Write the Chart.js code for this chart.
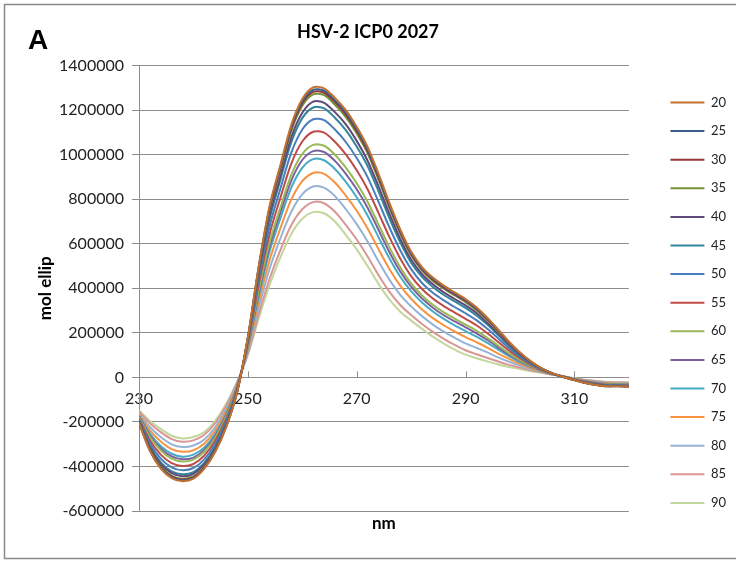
<!DOCTYPE html>
<html>
<head>
<meta charset="utf-8">
<title>HSV-2 ICP0 2027</title>
<script src="https://cdn.jsdelivr.net/npm/chart.js"></script>
<style>
  html, body { margin: 0; padding: 0; background: #fff; }
</style>
</head>
<body>
<canvas id="grafico" width="736" height="561"></canvas>
<script>
// longitud de onda (nm)
const longitudOnda = [230,232,234,236,238,240,242,244,246,248,250,252,254,256,258,260,262,264,266,268,270,272,274,276,278,280,282,284,286,288,290,292,294,296,298,300,302,304,306,308,310,312,314,316,318,320];
const ticksX = [230, 250, 270, 290, 310];

const temperaturas = ['20','25','30','35','40','45','50','55','60','65','70','75','80','85','90'];

// mol ellip, en miles
const s20 = [-205,-330,-410,-452,-466,-455,-410,-335,-225,-70,180,500,770,955,1135,1250,1302,1298,1255,1200,1125,1035,915,785,665,565,495,448,412,382,352,315,268,215,160,112,72,40,18,2,-12,-25,-34,-40,-40,-42];
const s25 = [-204,-327,-406,-448,-462,-451,-407,-332,-223,-69,178,495,763,947,1125,1239,1291,1287,1244,1189,1114,1024,905,776,658,559,489,443,407,377,347,310,264,212,158,111,71,40,18,2,-12,-25,-34,-40,-40,-42];
const s30 = [-203,-325,-404,-445,-459,-448,-404,-330,-221,-68,177,492,758,940,1118,1231,1282,1278,1236,1180,1106,1016,898,770,652,554,485,439,403,373,343,307,261,210,156,109,70,39,18,2,-12,-25,-33,-39,-39,-41];
const s35 = [-202,-323,-400,-442,-455,-445,-401,-327,-219,-67,176,487,750,932,1108,1220,1271,1267,1224,1169,1095,1006,888,761,645,548,480,433,398,368,338,302,257,206,154,108,70,39,18,2,-12,-24,-33,-39,-39,-41];
const s40 = [-198,-314,-390,-430,-444,-433,-391,-319,-213,-64,171,473,729,907,1079,1188,1238,1233,1191,1136,1062,973,858,735,622,529,463,418,382,352,323,289,245,197,147,103,67,38,17,2,-11,-23,-32,-38,-38,-40];
const s45 = [-196,-308,-382,-422,-435,-425,-384,-313,-208,-62,167,462,713,889,1057,1164,1212,1208,1166,1110,1037,949,836,715,606,515,451,406,370,341,312,278,237,190,142,100,65,37,17,2,-11,-23,-31,-37,-37,-39];
const s50 = [-190,-296,-365,-404,-417,-407,-368,-299,-198,-57,160,440,679,849,1010,1113,1159,1155,1113,1057,985,899,789,674,571,486,424,380,346,316,288,257,218,175,131,93,61,35,16,3,-10,-21,-29,-35,-35,-37];
const s55 = [-185,-282,-347,-385,-398,-389,-351,-285,-188,-52,152,417,644,808,961,1059,1103,1099,1058,1001,930,845,739,631,534,455,397,354,320,291,263,234,198,159,120,86,56,33,16,3,-9,-20,-28,-33,-34,-35];
const s60 = [-179,-268,-328,-365,-378,-369,-334,-271,-177,-47,143,392,607,764,910,1003,1044,1040,1000,942,872,789,687,585,495,422,368,326,292,264,237,210,178,143,108,78,52,31,15,3,-8,-19,-26,-31,-32,-33];
const s65 = [-176,-261,-319,-355,-368,-360,-326,-264,-171,-45,139,380,589,743,885,976,1016,1012,972,914,845,762,663,563,476,407,354,313,279,251,225,198,168,135,102,74,50,30,15,4,-8,-18,-25,-30,-31,-32];
const s70 = [-172,-252,-308,-343,-356,-347,-315,-255,-165,-41,134,365,566,716,853,941,980,975,936,878,809,727,630,535,452,387,336,296,263,234,208,183,155,125,95,69,47,29,15,4,-7,-17,-24,-29,-30,-31];
const s75 = [-166,-238,-288,-322,-334,-327,-297,-239,-153,-36,125,339,527,671,799,881,918,914,875,816,748,669,576,487,412,353,305,266,234,206,181,158,134,107,83,61,42,26,14,4,-7,-15,-22,-26,-28,-28];
const s80 = [-160,-223,-268,-301,-313,-306,-279,-224,-142,-30,116,313,488,625,745,822,857,852,814,755,688,610,521,439,371,319,275,237,205,178,153,133,112,90,70,53,37,24,13,4,-6,-14,-20,-24,-26,-26];
const s85 = [-153,-206,-246,-277,-289,-283,-258,-206,-128,-24,106,284,443,573,684,755,787,782,744,685,619,543,460,385,325,280,240,204,173,146,122,104,88,71,56,44,32,22,12,5,-5,-12,-17,-22,-23,-24];
const s90 = [-148,-195,-232,-262,-274,-268,-245,-195,-120,-20,100,265,415,540,645,712,742,737,700,640,575,500,420,350,295,255,218,183,152,125,102,86,72,58,47,38,28,20,12,5,-4,-11,-16,-20,-22,-22];

const series = [s20,s25,s30,s35,s40,s45,s50,s55,s60,s65,s70,s75,s80,s85,s90];
const colores = ['#C4712F','#3A5F8E','#953735','#77933C','#5F497A','#31859C','#4A7EBB','#BE4B48','#98B954','#7D60A0','#46AAC5','#F69240','#95B3D7','#D99694','#C3D69B'];
const MILES = 1000;

const datasets = series.map((s, i) => ({
    label: temperaturas[i],
    data: s.map((v, j) => ({ x: longitudOnda[j], y: v * MILES })),
    borderColor: colores[i],
    backgroundColor: colores[i],
    borderWidth: 2,
    pointRadius: 0,
    tension: 0.3,
    xAxisID: 'x',
    yAxisID: 'y'
}));

const fuente = 'Lato, "Open Sans", sans-serif';
const gris = '#8c8c8c';

// marco exterior, la letra del panel y las marcas del eje x hacia arriba
const extras = {
    id: 'extras',
    beforeDraw(chart) {
        const c = chart.ctx;
        c.save();
        c.strokeStyle = '#8a8a8a';
        c.lineWidth = 1.5;
        c.strokeRect(4.5, 4.5, 760, 554);
        c.restore();
    },
    afterDraw(chart) {
        const c = chart.ctx;
        const ex = chart.scales.x2;
        const y0 = chart.scales.y.getPixelForValue(0);
        c.save();
        c.strokeStyle = gris;
        c.lineWidth = 1;
        ex.ticks.forEach(t => {
            const px = Math.round(ex.getPixelForValue(t.value)) + 0.5;
            c.beginPath();
            c.moveTo(px, y0 - 6);
            c.lineTo(px, y0);
            c.stroke();
        });
        c.fillStyle = '#000';
        c.font = 'bold 28px "Liberation Sans", Arial, sans-serif';
        c.textBaseline = 'alphabetic';
        c.fillText('A', 28, 49);
        c.restore();
    }
};

new Chart(document.getElementById('grafico'), {
    type: 'line',
    data: { datasets },
    plugins: [extras],
    options: {
        responsive: false,
        animation: false,
        layout: { padding: { left: 0, right: 0, top: 0, bottom: 0 } },
        plugins: {
            title: {
                display: true,
                text: 'HSV-2 ICP0 2027',
                color: '#000',
                font: { family: fuente, size: 18, weight: 'bold' },
                padding: { top: 21, bottom: 23 }
            },
            legend: {
                position: 'right',
                align: 'start',
                title: { display: true, text: '', font: { size: 12 }, padding: { top: 66, bottom: 0 } },
                labels: {
                    usePointStyle: true,
                    pointStyle: 'line',
                    pointStyleWidth: 34,
                    color: '#222',
                    padding: 15.6,
                    font: { family: fuente, size: 13 }
                }
            },
            tooltip: { enabled: false }
        },
        scales: {
            x: {
                type: 'linear',
                min: 230, max: 320,
                position: 'bottom',
                ticks: { display: false },
                grid: { display: false },
                border: { display: false },
                title: {
                    display: true, text: 'nm', color: '#000',
                    font: { family: fuente, size: 17, weight: 'bold' },
                    padding: { top: 0, bottom: 27 }
                },
                afterFit: s => { s.height = 50; }
            },
            x2: {
                type: 'linear',
                axis: 'x',
                min: 230, max: 320,
                position: { y: 0 },
                afterBuildTicks: s => { s.ticks = ticksX.map(v => ({ value: v })); },
                ticks: {
                    maxRotation: 0, autoSkip: false,
                    color: '#222', padding: 4,
                    font: { family: fuente, size: 16 }
                },
                grid: { display: false },
                border: { display: true, color: gris, width: 1 }
            },
            y: {
                min: -600000, max: 1400000,
                position: 'left',
                ticks: {
                    stepSize: 200000, color: '#222', padding: 8,
                    font: { family: fuente, size: 16 },
                    callback: v => String(v)
                },
                grid: { color: gris, lineWidth: 1, tickLength: 7 },
                border: { display: true, color: gris, width: 1 },
                title: {
                    display: true, text: 'mol ellip', color: '#000',
                    font: { family: fuente, size: 17, weight: 'bold' },
                    padding: { top: 35, bottom: 0 }
                },
                afterFit: s => { s.width = 139; }
            },
            espacio: {
                type: 'linear',
                position: 'right',
                min: 0, max: 1,
                ticks: { display: false },
                grid: { display: false },
                border: { display: false },
                afterFit: s => { s.width = 26; }
            }
        }
    }
});
</script>
</body>
</html>
